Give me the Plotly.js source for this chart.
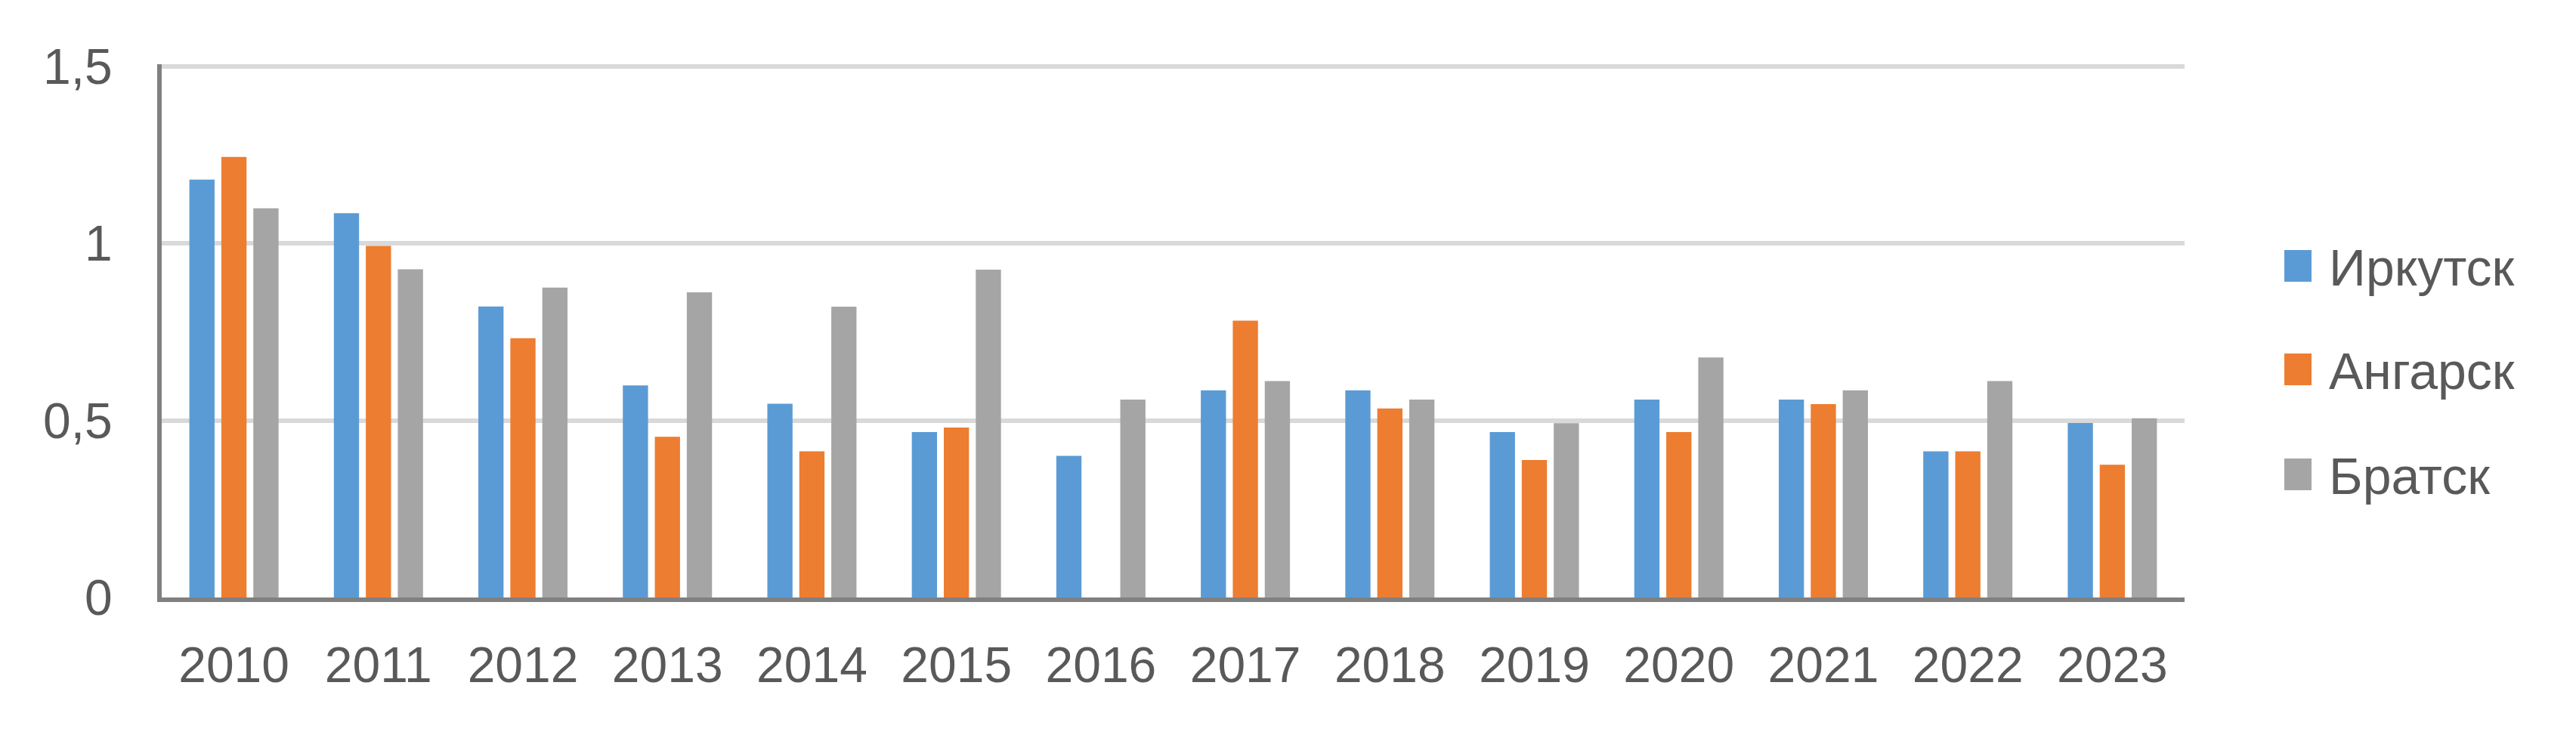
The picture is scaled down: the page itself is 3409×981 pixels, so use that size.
<!DOCTYPE html>
<html>
<head>
<meta charset="utf-8">
<script src="https://cdn.plot.ly/plotly-3.0.1.min.js"></script>
<style>
html,body{margin:0;padding:0;background:#fff;}
#chart{width:3409px;height:981px;}
</style>
</head>
<body>
<div id="chart"></div>
<script>
const years = ['2010','2011','2012','2013','2014','2015','2016','2017','2018','2019','2020','2021','2022','2023'];
const irkutsk = [1.18, 1.085, 0.822, 0.599, 0.547, 0.467, 0.400, 0.585, 0.585, 0.467, 0.559, 0.559, 0.413, 0.493];
const angarsk = [1.244, 0.993, 0.732, 0.454, 0.413, 0.480, null, 0.782, 0.534, 0.388, 0.467, 0.546, 0.413, 0.375];
const bratsk  = [1.099, 0.927, 0.875, 0.862, 0.821, 0.926, 0.559, 0.611, 0.559, 0.492, 0.678, 0.585, 0.611, 0.506];
const seriesNames = ['Иркутск', 'Ангарск', 'Братск'];
const colors = ['#5b9bd5', '#ed7d31', '#a5a5a5'];
const yTicks = [0, 0.5, 1, 1.5];

const allSeries = [irkutsk, angarsk, bratsk];
const traces = allSeries.map((vals, i) => ({
  type: 'bar',
  name: seriesNames[i],
  x: years,
  y: vals,
  marker: {color: colors[i], line: {width: 0}},
  hoverinfo: 'skip',
  showlegend: false
}));

// Legend drawn in paper coordinates (plot area: x 214..2891 px, y 791..85 px)
const W = 3409, H = 981, ML = 214, MR = 518, MT = 85, MB = 190;
const pw = W - ML - MR, ph = H - MT - MB;
const px2x = p => (p - ML) / pw;
const py2y = p => (H - MB - p) / ph;
const legendCenters = [352, 489, 628];
const shapes = [];
const annotations = [];
seriesNames.forEach((name, i) => {
  const c = legendCenters[i];
  shapes.push({
    type: 'rect', xref: 'paper', yref: 'paper',
    x0: px2x(3023), x1: px2x(3059), y0: py2y(c + 21), y1: py2y(c - 21),
    fillcolor: colors[i], line: {width: 0}, layer: 'above'
  });
  annotations.push({
    xref: 'paper', yref: 'paper', x: px2x(3081), y: py2y(c + 2),
    xanchor: 'left', yanchor: 'middle', showarrow: false, borderpad: 0,
    text: name, font: {size: 68, color: '#595959'}
  });
});

const layout = {
  width: W,
  height: H,
  margin: {l: ML, r: MR, t: MT, b: MB, pad: 0},
  paper_bgcolor: '#ffffff',
  plot_bgcolor: '#ffffff',
  separators: ', ',
  font: {family: '"Liberation Sans", Arial, sans-serif', size: 66, color: '#595959'},
  barmode: 'group',
  bargap: 0.336,
  bargroupgap: 0.212,
  showlegend: false,
  xaxis: {
    type: 'category',
    showline: true,
    linecolor: '#808080',
    linewidth: 6,
    showgrid: false,
    zeroline: false,
    ticks: '',
    ticklabelstandoff: 27,
    tickfont: {size: 66, color: '#595959'},
    fixedrange: true
  },
  yaxis: {
    range: [0, 1.506],
    tickvals: yTicks,
    showgrid: true,
    gridcolor: '#d9d9d9',
    gridwidth: 6,
    zeroline: false,
    showline: true,
    linecolor: '#808080',
    linewidth: 6,
    ticks: '',
    ticklabelstandoff: 46,
    tickfont: {size: 66, color: '#595959'},
    fixedrange: true
  },
  shapes: shapes,
  annotations: annotations
};

Plotly.newPlot('chart', traces, layout, {staticPlot: true, displayModeBar: false});
</script>
</body>
</html>
